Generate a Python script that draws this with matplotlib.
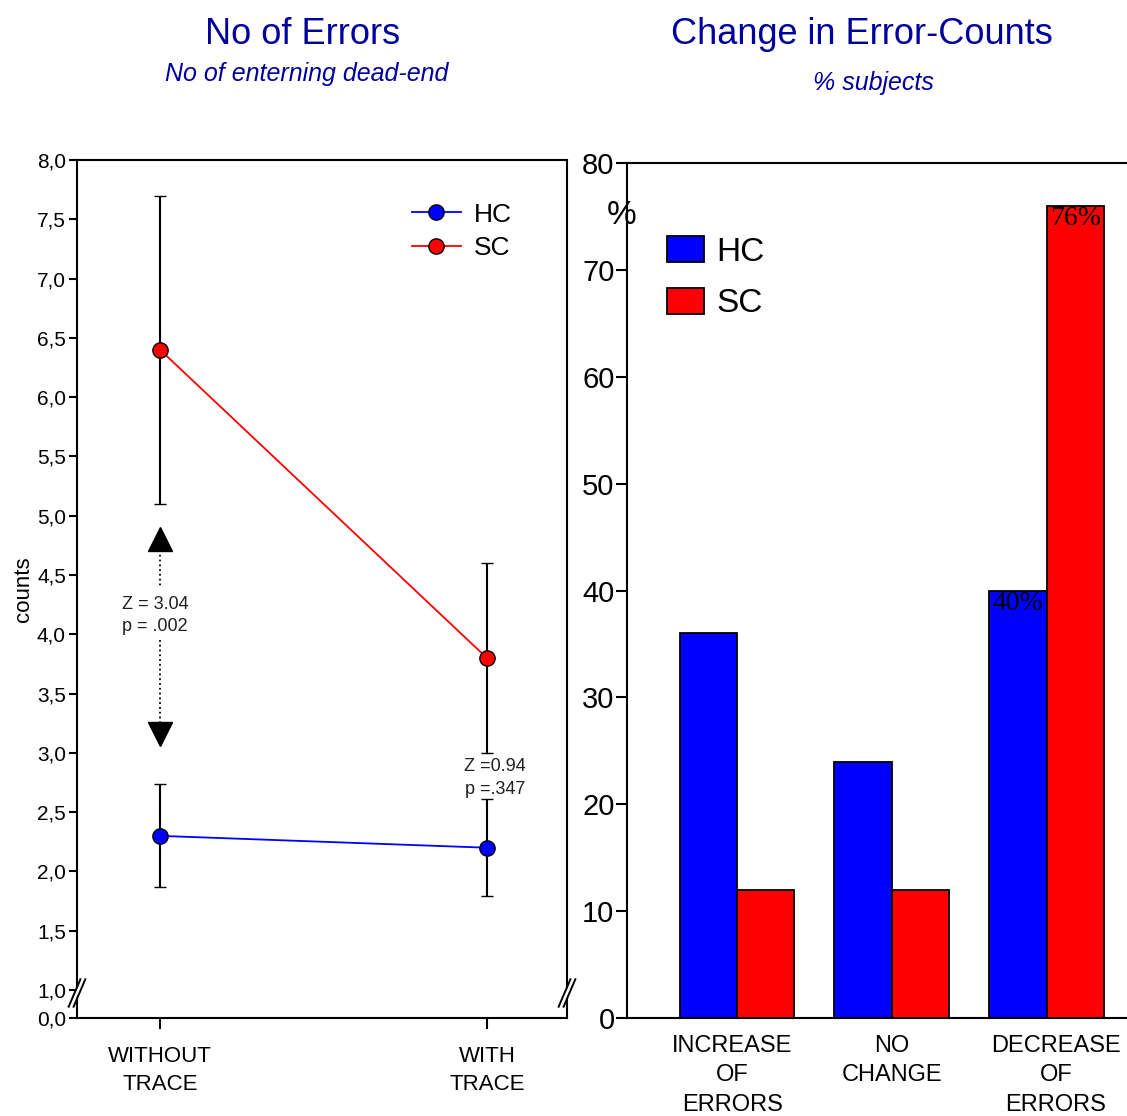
import numpy as np
import matplotlib.pyplot as plt
from matplotlib.patches import Patch, Polygon
from matplotlib.lines import Line2D

plt.rcParams['font.family'] = ['Liberation Sans', 'DejaVu Sans']

# left panel: mean error counts with error bars
conditions = ["WITHOUT\nTRACE", "WITH\nTRACE"]
hc_mean = [2.3, 2.2]
hc_low = [1.87, 1.79]
hc_high = [2.74, 2.61]
sc_mean = [6.4, 3.8]
sc_low = [5.1, 3.0]
sc_high = [7.7, 4.6]
count_ticks = [0.0, 1.0, 1.5, 2.0, 2.5, 3.0, 3.5, 4.0, 4.5, 5.0, 5.5, 6.0, 6.5, 7.0, 7.5, 8.0]

# right panel: percentage of subjects per change category
change_cats = ["INCREASE\nOF\nERRORS", "NO\nCHANGE", "DECREASE\nOF\nERRORS"]
hc_pct = [36, 24, 40]
sc_pct = [12, 12, 76]
pct_ticks = [0, 10, 20, 30, 40, 50, 60, 70, 80]

title_col = '#00009C'
ZERO_POS = 1 - 28 / 118.6   # where the 0,0 tick sits below the axis break


def ymap(v):
    return ZERO_POS if v == 0 else v


fig = plt.figure(figsize=(11.27, 11.16), dpi=100)

# ---------------- left ----------------
ax1 = fig.add_axes([77 / 1127, 1 - 1018 / 1116, 490 / 1127, 858 / 1116])
x = np.arange(len(conditions))
ax1.errorbar(x, hc_mean, yerr=[np.subtract(hc_mean, hc_low), np.subtract(hc_high, hc_mean)],
             color='blue', lw=1.3, marker='o', ms=11, mfc='blue', mec='black', mew=1,
             ecolor='black', elinewidth=1.5, capsize=4, capthick=1.5, zorder=3)
ax1.errorbar(x, sc_mean, yerr=[np.subtract(sc_mean, sc_low), np.subtract(sc_high, sc_mean)],
             color='red', lw=1.3, marker='o', ms=11, mfc='red', mec='black', mew=1,
             ecolor='black', elinewidth=1.5, capsize=4, capthick=1.5, zorder=3)
ax1.set_xlim(-0.254, 1.245)
ax1.set_ylim(ZERO_POS, 8.0)
ax1.set_yticks([ymap(v) for v in count_ticks])
ax1.set_yticklabels([f"{v:.1f}".replace('.', ',') for v in count_ticks], fontsize=15)
ax1.set_xticks(x)
ax1.set_xticklabels(conditions, fontsize=16, linespacing=1.45)
ax1.tick_params(axis='y', direction='out', length=6, width=1.5, pad=2)
ax1.tick_params(axis='x', direction='out', length=8, width=1.5, pad=12)
for s in ax1.spines.values():
    s.set_linewidth(1.5)
ax1.set_ylabel('counts', fontsize=16, labelpad=2)

# axis break marks on both vertical spines
yb = (0.975 - ZERO_POS) / (8 - ZERO_POS)
for xa in (0.0, 1.0):
    gap = Polygon([(xa - 0.011, yb - 0.008), (xa + 0.003, yb + 0.008),
                   (xa + 0.011, yb + 0.008), (xa - 0.003, yb - 0.008)],
                  closed=True, transform=ax1.transAxes, fc='white', ec='none',
                  clip_on=False, zorder=5)
    ax1.add_patch(gap)
    for dx in (-0.005, 0.005):
        ax1.plot([xa + dx - 0.012, xa + dx + 0.012], [yb - 0.016, yb + 0.016],
                 transform=ax1.transAxes, color='black', lw=1.4, clip_on=False, zorder=6)

# significance arrows
ax1.plot([0, 0], [4.71, 4.41], ls=':', color='black', lw=1.3)
ax1.plot([0, 0], [3.95, 3.25], ls=':', color='black', lw=1.3)
ax1.plot([0], [4.80], marker='^', ms=17, color='black', ls='none')
ax1.plot([0], [3.16], marker='v', ms=17, color='black', ls='none')
ax1.text(-0.115, 3.99, "Z = 3.04\np = .002", fontsize=13, ha='left', va='bottom',
         linespacing=1.45, color='#202020')
ax1.text(1.025, 2.62, "Z =0.94\np =.347", fontsize=13, ha='center', va='bottom',
         linespacing=1.45, color='#202020')

ax1.legend(handles=[Line2D([], [], color='blue', lw=1.3, marker='o', ms=11, mfc='blue',
                           mec='black', label='HC'),
                    Line2D([], [], color='red', lw=1.3, marker='o', ms=11, mfc='red',
                           mec='black', label='SC')],
           loc='upper left', bbox_to_anchor=(0.635, 0.978), frameon=False, fontsize=19,
           handlelength=1.85, handletextpad=0.5, labelspacing=0.35)

fig.text(303 / 1127, 1 - 35 / 1116, "No of Errors", fontsize=26, color=title_col,
         ha='center', va='center')
fig.text(307 / 1127, 1 - 74 / 1116, "No of enterning dead-end", fontsize=18,
         style='italic', color=title_col, ha='center', va='center')

# ---------------- right ----------------
ax2 = fig.add_axes([627 / 1127, 1 - 1018 / 1116, 500 / 1127, 855 / 1116])
g = np.arange(len(change_cats))
w = 0.37
ax2.bar(g - w / 2, hc_pct, width=w, color='blue', edgecolor='black', lw=1.3)
ax2.bar(g + w / 2, sc_pct, width=w, color='red', edgecolor='black', lw=1.3)
ax2.set_xlim(-0.71, 2.52)
ax2.set_ylim(0, 80)
ax2.set_yticks(pct_ticks)
ax2.set_yticklabels([str(v) for v in pct_ticks], fontsize=21)
ax2.set_xticks(g + np.array([-0.03, 0.0, 0.06]))
ax2.set_xticklabels(change_cats, fontsize=17, linespacing=1.45)
ax2.tick_params(axis='y', direction='out', length=8, width=1.5, pad=1)
ax2.tick_params(axis='x', length=0, pad=12)
for s in ax2.spines.values():
    s.set_linewidth(1.5)
ax2.spines['right'].set_visible(False)

ax2.text(g[2] - w / 2, hc_pct[2], f"{hc_pct[2]}%", family='Liberation Serif',
         fontsize=20, ha='center', va='top')
ax2.text(g[2] + w / 2, sc_pct[2], f"{sc_pct[2]}%", family='Liberation Serif',
         fontsize=20, ha='center', va='top')
fig.text(622 / 1127, 1 - 215 / 1116, "%", fontsize=24, ha='center', va='center')

ax2.legend(handles=[Patch(fc='blue', ec='black', lw=1.3, label='HC'),
                    Patch(fc='red', ec='black', lw=1.3, label='SC')],
           loc='upper left', bbox_to_anchor=(0.02, 0.95), frameon=False, fontsize=24,
           handlelength=1.12, handleheight=0.85, handletextpad=0.35, labelspacing=0.6)

fig.text(862 / 1127, 1 - 35 / 1116, "Change in Error-Counts", fontsize=26,
         color=title_col, ha='center', va='center')
fig.text(873 / 1127, 1 - 83 / 1116, "% subjects", fontsize=18, style='italic',
         color=title_col, ha='center', va='center')

fig.savefig('out.png', dpi=100)
